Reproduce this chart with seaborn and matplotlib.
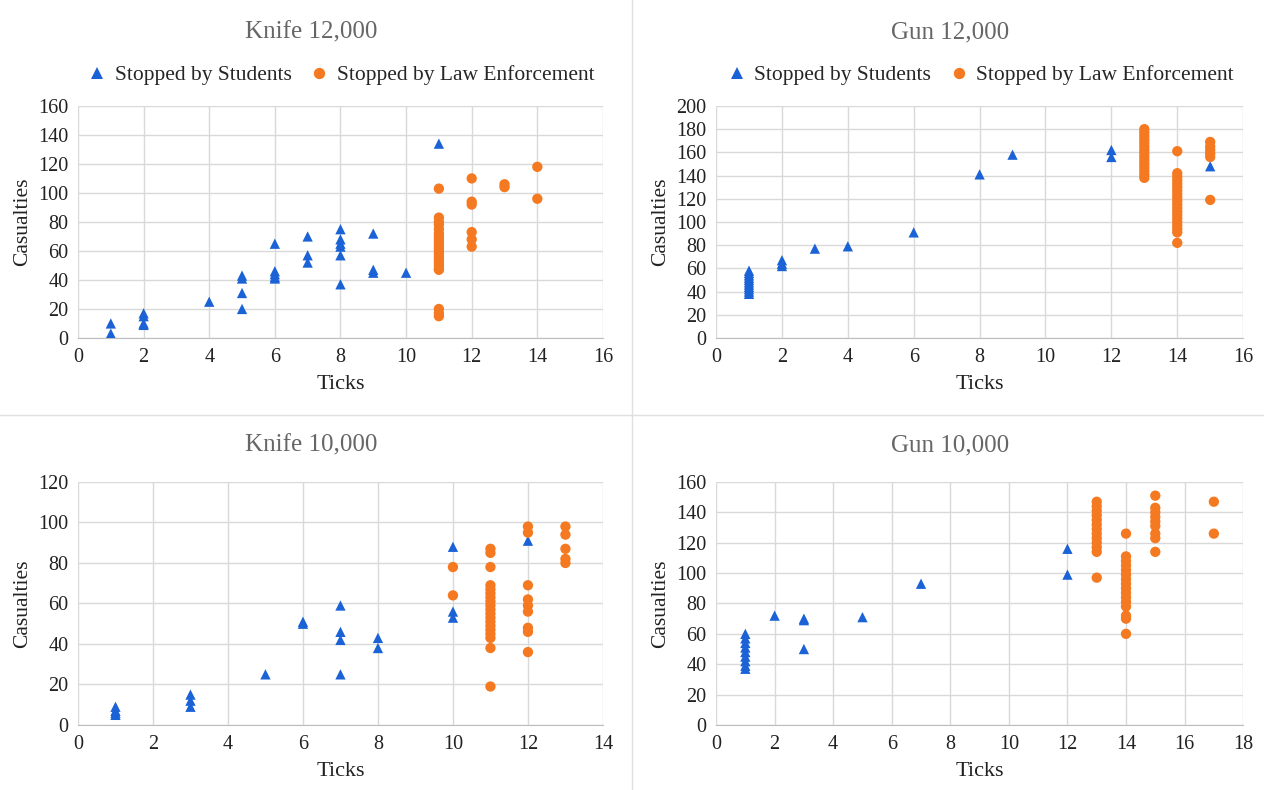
import numpy as np
import pandas as pd
import seaborn as sns
import matplotlib.pyplot as plt
from matplotlib.lines import Line2D

# Knife 12,000
k12_stu_x = [1, 1, 2, 2, 2, 2, 4, 5, 5, 5, 5, 6, 6, 6, 6, 6, 7, 7, 7, 8, 8, 8, 8, 8, 8, 9, 9, 9, 10, 11]
k12_stu_y = [10, 3, 17, 15, 10, 9, 25, 43, 41, 31, 20, 65, 46, 44, 42, 41, 70, 57, 52, 75, 68, 65, 63, 57, 37, 72, 47, 45, 45, 134]
k12_law_x = [11] * 22 + [12] * 6 + [13, 13, 14, 14]
k12_law_y = [103, 83, 80, 78, 75, 72, 70, 68, 66, 64, 62, 60, 58, 56, 54, 52, 50, 48, 47, 20, 17, 15,
             110, 94, 92, 73, 68, 63, 106, 104, 118, 96]

# Gun 12,000
g12_stu_x = [1] * 11 + [2, 2, 2, 3, 4, 6, 8, 9, 12, 12, 15]
g12_stu_y = [58, 56, 54, 52, 50, 48, 46, 44, 42, 40, 38, 67, 64, 62, 77, 79, 91, 141, 158, 162, 156, 148]
g12_law_x = [13] * 15 + [14] * 20 + [15] * 6
g12_law_y = [180, 177, 174, 171, 168, 165, 162, 159, 156, 153, 150, 147, 144, 141, 138,
             161, 142, 139, 136, 133, 130, 127, 124, 121, 118, 115, 112, 109, 106, 103, 100, 97, 94, 91, 82,
             169, 165, 162, 159, 156, 119]

# Knife 10,000
k10_stu_x = [1, 1, 1, 1, 3, 3, 3, 5, 6, 6, 7, 7, 7, 7, 8, 8, 10, 10, 10, 12]
k10_stu_y = [9, 7, 6, 5, 15, 12, 9, 25, 51, 50, 59, 46, 42, 25, 43, 38, 88, 56, 53, 91]
k10_law_x = [10, 10] + [11] * 19 + [12] * 9 + [13] * 5
k10_law_y = [78, 64,
             87, 85, 78, 69, 67, 65, 63, 61, 59, 57, 55, 53, 51, 49, 47, 45, 43, 38, 19,
             98, 95, 69, 62, 59, 56, 48, 46, 36,
             98, 94, 87, 82, 80]

# Gun 10,000
g10_stu_x = [1] * 9 + [2, 3, 3, 3, 5, 7, 12, 12]
g10_stu_y = [60, 57, 54, 51, 48, 45, 42, 39, 37, 72, 70, 69, 50, 71, 93, 116, 99]
g10_law_x = [13] * 13 + [14] * 16 + [15] * 9 + [17, 17]
g10_law_y = [147, 144, 141, 138, 135, 132, 129, 126, 123, 120, 117, 114, 97,
             126, 111, 108, 105, 102, 99, 96, 93, 90, 87, 84, 81, 78, 72, 70, 60,
             151, 143, 140, 137, 134, 131, 126, 123, 114,
             147, 126]

BLUE = '#1a62d6'
ORANGE = '#f47920'
STU = 'Stopped by Students'
LAW = 'Stopped by Law Enforcement'

sns.set_style('whitegrid')
plt.rcParams['font.family'] = ['Liberation Serif', 'DejaVu Serif']

fig = plt.figure(figsize=(12.64, 7.9), dpi=100)

panels = [
    ('Knife 12,000', k12_stu_x, k12_stu_y, k12_law_x, k12_law_y, 16, 160, True, [0.0617, 0.5722, 0.4153, 0.2937], 0.246),
    ('Gun 12,000', g12_stu_x, g12_stu_y, g12_law_x, g12_law_y, 16, 200, True, [0.5665, 0.5722, 0.4170, 0.2937], 0.752),
    ('Knife 10,000', k10_stu_x, k10_stu_y, k10_law_x, k10_law_y, 14, 120, False, [0.0617, 0.0823, 0.4153, 0.3076], 0.246),
    ('Gun 10,000', g10_stu_x, g10_stu_y, g10_law_x, g10_law_y, 18, 160, False, [0.5665, 0.0823, 0.4170, 0.3076], 0.752),
]

for title, sx, sy, lx, ly, xmax, ymax, show_leg, pos, cx in panels:
    ax = fig.add_axes(pos)
    df = pd.DataFrame({
        'Ticks': sx + lx,
        'Casualties': sy + ly,
        'group': [STU] * len(sx) + [LAW] * len(lx),
    })
    sns.scatterplot(data=df, x='Ticks', y='Casualties', hue='group', style='group',
                    palette={STU: BLUE, LAW: ORANGE}, markers={STU: '^', LAW: 'o'},
                    s=55, linewidth=0, ax=ax, legend=show_leg, zorder=3)
    ax.set_xlim(0, xmax)
    ax.set_ylim(0, ymax)
    ax.set_xticks(np.arange(0, xmax + 1, 2))
    ax.set_yticks(np.arange(0, ymax + 1, 20))
    ax.grid(True, color='#d9d9d9', linewidth=1)
    for side in ['top', 'right', 'left']:
        ax.spines[side].set_visible(False)
    ax.spines['bottom'].set_color('#bdbdbd')
    ax.tick_params(axis='x', length=0, labelsize=14.5, colors='#222222', pad=7)
    ax.tick_params(axis='y', length=0, labelsize=14.5, colors='#222222', pad=7)
    ax.set_xlabel('Ticks', fontsize=16, color='#222222', labelpad=6)
    ax.set_ylabel('Casualties', fontsize=15.5, color='#222222', labelpad=4)
    if show_leg:
        ax.legend(loc='lower center', bbox_to_anchor=(0.5, 1.005), ncol=2, frameon=False,
                  fontsize=15.5, handletextpad=0.3, handlelength=1.0, columnspacing=0.8,
                  markerscale=1.1)
    ytitle = 1 - 32 / 790 if show_leg else 1 - 445 / 790
    fig.text(cx, ytitle, title, ha='center', va='center', fontsize=18, color='#666666')

# separators between the four cells
fig.add_artist(Line2D([0.5, 0.5], [0, 1], color='#e0e0e0', linewidth=1))
fig.add_artist(Line2D([0, 1], [1 - 415 / 790, 1 - 415 / 790], color='#e0e0e0', linewidth=1))

fig.savefig('out.png', dpi=100)
